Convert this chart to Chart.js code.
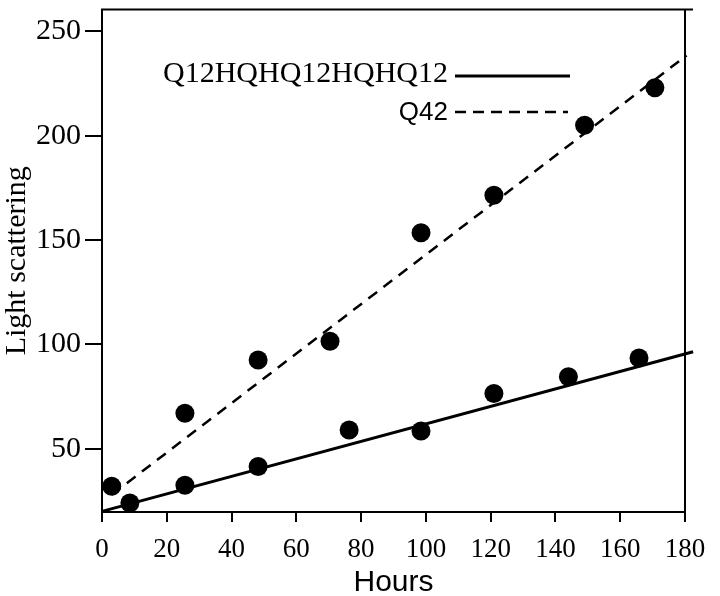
<!DOCTYPE html>
<html>
<head>
<meta charset="utf-8">
<script src="https://cdn.jsdelivr.net/npm/chart.js@4.4.0/dist/chart.umd.min.js"></script>
<style>
    html, body { margin: 0; padding: 0; background: #fff; }
    #wrap { width: 720px; height: 596px; }
</style>
</head>
<body>
<div id="wrap"><canvas id="lightChart" width="720" height="596"></canvas></div>
<script>
// values (hours, light scattering)
const seriesNames = ['Q12HQHQ12HQHQ12', 'Q42'];

const q42Hours = [3, 25.6, 48.2, 70.4, 98.5, 121, 149, 170.7];
const q42Values = [32, 67, 92.5, 101.5, 153.5, 171.5, 205, 223];

const q12Hours = [8.6, 25.6, 48.2, 76.3, 98.5, 121, 144, 165.8];
const q12Values = [24, 32.5, 41.5, 59, 58.5, 76.5, 84.5, 93.5];

// straight fit lines, start and end
const q42FitHours = [3, 180.5];
const q42FitValues = [28, 238.5];
const q12FitHours = [0, 182.5];
const q12FitValues = [20, 96.5];

const xTicks = [0, 20, 40, 60, 80, 100, 120, 140, 160, 180];
const yTicks = [50, 100, 150, 200, 250];
const yMin = 19.7;
const yMax = 260.5;

const toPoints = (xs, ys) => xs.map((x, i) => ({ x: x, y: ys[i] }));

// box on top/right plus the hand placed key
const frameAndKey = {
    id: 'frameAndKey',
    afterDraw(chart) {
        const { ctx, chartArea } = chart;
        ctx.save();
        ctx.strokeStyle = '#000';
        ctx.fillStyle = '#000';
        ctx.lineWidth = 2;
        ctx.beginPath();
        ctx.moveTo(chartArea.left - 1, chartArea.top);
        ctx.lineTo(chartArea.right + 8, chartArea.top);
        ctx.moveTo(chartArea.right, chartArea.top);
        ctx.lineTo(chartArea.right, chartArea.bottom + 10);
        ctx.stroke();

        ctx.textAlign = 'right';
        ctx.textBaseline = 'alphabetic';
        ctx.font = '30px "Liberation Serif"';
        ctx.fillText(seriesNames[0], 448, 82);
        ctx.lineWidth = 3;
        ctx.beginPath();
        ctx.moveTo(455, 76);
        ctx.lineTo(570, 76);
        ctx.stroke();

        ctx.font = '26px "Liberation Sans"';
        ctx.fillText(seriesNames[1], 448, 120);
        ctx.lineWidth = 2.5;
        ctx.setLineDash([11, 7]);
        ctx.beginPath();
        ctx.moveTo(455, 112);
        ctx.lineTo(568, 112);
        ctx.stroke();
        ctx.restore();
    }
};

Chart.defaults.color = '#000';

new Chart(document.getElementById('lightChart').getContext('2d'), {
    type: 'scatter',
    data: {
        datasets: [
            {
                label: seriesNames[1],
                data: toPoints(q42Hours, q42Values),
                pointRadius: 9.5,
                pointBackgroundColor: '#000',
                pointBorderWidth: 0
            },
            {
                label: seriesNames[0],
                data: toPoints(q12Hours, q12Values),
                pointRadius: 9.5,
                pointBackgroundColor: '#000',
                pointBorderWidth: 0
            },
            {
                label: seriesNames[1] + ' fit',
                data: toPoints(q42FitHours, q42FitValues),
                showLine: true,
                borderColor: '#000',
                borderWidth: 2.5,
                borderDash: [11, 8],
                pointRadius: 0,
                clip: false
            },
            {
                label: seriesNames[0] + ' fit',
                data: toPoints(q12FitHours, q12FitValues),
                showLine: true,
                borderColor: '#000',
                borderWidth: 3,
                pointRadius: 0,
                clip: false
            }
        ]
    },
    options: {
        responsive: false,
        animation: false,
        layout: { padding: { top: 6, right: 35, bottom: 0, left: 0 } },
        plugins: {
            legend: { display: false },
            tooltip: { enabled: false }
        },
        scales: {
            x: {
                type: 'linear',
                min: 0,
                max: 180,
                afterBuildTicks: s => { s.ticks = xTicks.map(v => ({ value: v })); },
                afterFit: s => { s.height = 84; s.paddingLeft = 0; s.paddingRight = 0; },
                ticks: {
                    font: { family: 'Liberation Serif', size: 27 },
                    padding: 12,
                    maxRotation: 0,
                    autoSkip: false
                },
                grid: { drawOnChartArea: false, tickLength: 10, color: '#000', lineWidth: 2 },
                border: { display: true, color: '#000', width: 2 },
                title: {
                    display: true,
                    text: 'Hours',
                    font: { family: 'Liberation Sans', size: 30, lineHeight: 1 },
                    padding: { top: 0, bottom: -2 }
                }
            },
            y: {
                type: 'linear',
                min: yMin,
                max: yMax,
                afterBuildTicks: s => { s.ticks = yTicks.map(v => ({ value: v })); },
                afterFit: s => { s.width = 102; s.paddingTop = 0; s.paddingBottom = 0; },
                ticks: {
                    font: { family: 'Liberation Serif', size: 30 },
                    padding: 4
                },
                grid: { drawOnChartArea: false, tickLength: 17, color: '#000', lineWidth: 2 },
                border: { display: true, color: '#000', width: 2 },
                title: {
                    display: true,
                    text: 'Light scattering',
                    font: { family: 'Liberation Serif', size: 30, lineHeight: 1 },
                    padding: { top: 2, bottom: 0 }
                }
            }
        }
    },
    plugins: [frameAndKey]
});
</script>
</body>
</html>
